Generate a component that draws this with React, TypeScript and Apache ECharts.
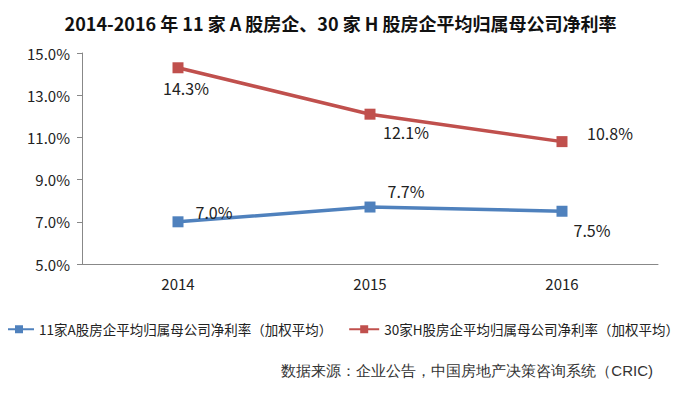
import React, { useEffect, useRef } from "react";
import * as echarts from "echarts";

const years = ["2014", "2015", "2016"];
const aShares = [7.0, 7.7, 7.5];
const hShares = [14.3, 12.1, 10.8];
const aName = "11家A股房企平均归属母公司净利率（加权平均）";
const hName = "30家H股房企平均归属母公司净利率（加权平均）";
const titleText = "2014-2016 年 11 家 A 股房企、30 家 H 股房企平均归属母公司净利率";
const sourceText = "数据来源：企业公告，中国房地产决策咨询系统（CRIC)";

const aLabelOffsets: [number, number][] = [[36, -10], [36, -16], [30, 19]];
const hLabelOffsets: [number, number][] = [[8, 20], [36, 18], [48, -9]];

export default function App() {
  const ref = useRef<HTMLDivElement>(null);
  useEffect(() => {
    if (!ref.current) return;
    const chart = echarts.init(ref.current, null, { renderer: "svg" });
    const font = "'Noto Sans CJK SC', 'Noto Sans', sans-serif";
    const mk = (vals: number[], offs: [number, number][]) =>
      vals.map((v, i) => ({
        value: v,
        label: { show: true, position: "inside", offset: offs[i] },
      }));
    chart.setOption({
      animation: false,
      backgroundColor: "#ffffff",
      title: {
        text: titleText,
        left: "center",
        top: 9,
        textStyle: { fontSize: 18, fontWeight: "bold", color: "#111", fontFamily: font },
      },
      grid: { left: 82, right: 23, top: 53, bottom: 130, containLabel: false },
      xAxis: {
        type: "category",
        data: years,
        boundaryGap: true,
        axisLine: { lineStyle: { color: "#888" } },
        axisTick: { show: false },
        axisLabel: { fontSize: 15, color: "#222", margin: 12, fontFamily: font },
      },
      yAxis: {
        type: "value",
        min: 5,
        max: 15,
        interval: 2,
        splitLine: { show: false },
        axisLine: { show: true, lineStyle: { color: "#888" } },
        axisTick: { show: true, inside: false, length: 5, lineStyle: { color: "#888" } },
        axisLabel: {
          fontSize: 15,
          color: "#222",
          margin: 12,
          fontFamily: font,
          formatter: (v: number) => v.toFixed(1) + "%",
        },
      },
      legend: {
        bottom: 58,
        left: 3,
        width: 678,
        padding: 0,
        itemWidth: 30,
        itemHeight: 10,
        itemGap: 16,
        textStyle: { fontSize: 13.5, color: "#222", fontFamily: font },
        data: [aName, hName],
      },
      graphic: [
        {
          type: "text",
          right: 28,
          top: 363,
          style: { text: sourceText, fontSize: 15, fill: "#333", font: `15px ${font}` },
        },
      ],
      series: [
        {
          name: aName,
          type: "line",
          data: mk(aShares, aLabelOffsets),
          symbol: "rect",
          symbolSize: 11,
          lineStyle: { width: 3.5, color: "#4f81bd" },
          itemStyle: { color: "#4f81bd" },
          label: {
            show: true,
            fontSize: 16,
            color: "#222",
            fontFamily: font,
            formatter: (p: any) => p.value.toFixed(1) + "%",
          },
        },
        {
          name: hName,
          type: "line",
          data: mk(hShares, hLabelOffsets),
          symbol: "rect",
          symbolSize: 11,
          lineStyle: { width: 3.5, color: "#c0504d" },
          itemStyle: { color: "#c0504d" },
          label: {
            show: true,
            fontSize: 16,
            color: "#222",
            fontFamily: font,
            formatter: (p: any) => p.value.toFixed(1) + "%",
          },
        },
      ],
    });
    return () => chart.dispose();
  }, []);
  return <div ref={ref} style={{ width: 681, height: 394, margin: -8 }} />;
}
